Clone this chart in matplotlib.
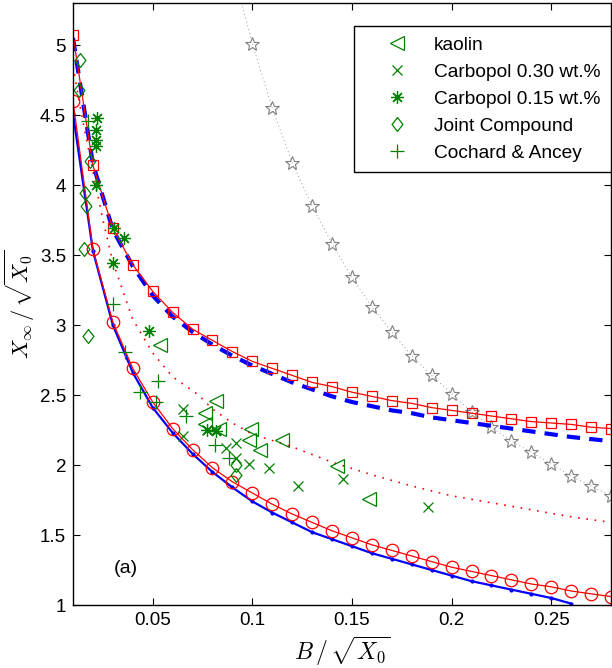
import numpy as np
import matplotlib
matplotlib.use('Agg')
import matplotlib.pyplot as plt

plt.rcParams['font.family'] = ['Liberation Sans', 'DejaVu Sans']
plt.rcParams['mathtext.fontset'] = 'cm'

# model curves
xs = [0.01, 0.02, 0.03, 0.04, 0.05, 0.06, 0.07, 0.08, 0.09, 0.10, 0.11, 0.12, 0.13, 0.14,
      0.15, 0.16, 0.17, 0.18, 0.19, 0.20, 0.21, 0.22, 0.23, 0.24, 0.25, 0.26, 0.27, 0.28]
sq_y = [5.07, 4.14, 3.69, 3.43, 3.24, 3.09, 2.97, 2.89, 2.81, 2.74, 2.69, 2.64, 2.59, 2.56,
        2.52, 2.49, 2.46, 2.44, 2.41, 2.39, 2.37, 2.35, 2.33, 2.31, 2.30, 2.29, 2.27, 2.26]
circ_y = [4.60, 3.54, 3.02, 2.69, 2.45, 2.26, 2.11, 1.98, 1.88, 1.80, 1.72, 1.65, 1.59, 1.53,
          1.48, 1.43, 1.39, 1.35, 1.31, 1.27, 1.24, 1.21, 1.18, 1.15, 1.13, 1.10, 1.08, 1.06]

blue_x = [0.01, 0.02, 0.03, 0.04, 0.05, 0.06, 0.07, 0.08, 0.09, 0.10, 0.11, 0.12, 0.13,
          0.14, 0.15, 0.16, 0.17, 0.18, 0.19, 0.20, 0.21, 0.22, 0.23, 0.24, 0.25, 0.26]
blue_y = [4.51, 3.53, 3.00, 2.66, 2.41, 2.23, 2.08, 1.95, 1.84, 1.74, 1.66, 1.59, 1.52,
          1.47, 1.42, 1.37, 1.33, 1.29, 1.25, 1.21, 1.17, 1.14, 1.11, 1.08, 1.05, 1.01]

dash_x = [0.01, 0.0135, 0.02, 0.03, 0.04, 0.05, 0.06, 0.07, 0.08, 0.09, 0.10, 0.11, 0.12,
          0.13, 0.14, 0.15, 0.16, 0.17, 0.18, 0.19, 0.20, 0.22, 0.24, 0.26, 0.28]
dash_y = [5.05, 4.73, 4.15, 3.68, 3.42, 3.21, 3.06, 2.95, 2.86, 2.78, 2.71, 2.65, 2.59,
          2.54, 2.49, 2.45, 2.42, 2.39, 2.37, 2.34, 2.32, 2.28, 2.24, 2.20, 2.17]

dot_x = [0.01, 0.015, 0.02, 0.025, 0.03, 0.04, 0.05, 0.06, 0.073, 0.08, 0.09, 0.10, 0.12,
         0.14, 0.16, 0.18, 0.20, 0.22, 0.24, 0.26, 0.28]
dot_y = [4.85, 4.45, 4.10, 3.75, 3.45, 3.04, 2.80, 2.63, 2.50, 2.40, 2.30, 2.22, 2.13,
         2.02, 1.93, 1.85, 1.78, 1.73, 1.68, 1.63, 1.59]

star_x = [0.09, 0.10, 0.11, 0.12, 0.13, 0.14, 0.15, 0.16, 0.17, 0.18, 0.19, 0.20, 0.21,
          0.22, 0.23, 0.24, 0.25, 0.26, 0.27, 0.28]
star_y = [5.55, 5.01, 4.55, 4.16, 3.85, 3.58, 3.34, 3.13, 2.95, 2.78, 2.64, 2.51, 2.38,
          2.27, 2.17, 2.09, 2.01, 1.92, 1.85, 1.78]

# experiments
kaolin_x = [0.0535, 0.082, 0.076, 0.076, 0.0835, 0.0993, 0.0985, 0.115, 0.104, 0.1427, 0.1585]
kaolin_y = [2.86, 2.46, 2.37, 2.29, 2.26, 2.26, 2.18, 2.18, 2.11, 1.99, 1.755]
carb30_x = [0.065, 0.065, 0.077, 0.082, 0.0868, 0.092, 0.092, 0.0985, 0.1085, 0.123, 0.1457, 0.188]
carb30_y = [2.40, 2.21, 2.25, 2.25, 2.12, 2.155, 2.05, 2.01, 1.98, 1.85, 1.90, 1.70]
carb15_x = [0.022, 0.0217, 0.0217, 0.0217, 0.0213, 0.0308, 0.0358, 0.0303, 0.0482, 0.077, 0.082]
carb15_y = [4.48, 4.39, 4.32, 4.28, 4.00, 3.69, 3.62, 3.44, 2.96, 2.25, 2.24]
joint_x = [0.0137, 0.013, 0.0183, 0.0158, 0.0163, 0.0153, 0.0175, 0.092, 0.092]
joint_y = [4.89, 4.68, 4.17, 3.94, 3.85, 3.54, 2.92, 2.00, 1.93]
coch_x = [0.0177, 0.0303, 0.036, 0.0527, 0.0435, 0.0518, 0.0665, 0.0815, 0.0885]
coch_y = [4.46, 3.15, 2.81, 2.60, 2.52, 2.45, 2.35, 2.14, 2.05]

green = '#008000'
diamond = [(0, 1), (0.78, 0), (0, -1), (-0.78, 0), (0, 1)]

fig = plt.figure(figsize=(6.12, 6.68), dpi=100)
ax = fig.add_axes([73/612, 63/668, 538/612, 602/668])

ax.plot(star_x, star_y, color='#999999', lw=0.7, ls=(0, (1, 3)), marker='*',
        ms=10, mfc='none', mec='#808080', mew=0.8)
ax.plot(dot_x, dot_y, color='red', lw=1.2, ls=(0, (1, 4)))
ax.plot(blue_x, blue_y, color='blue', lw=1.6, marker='.', ms=4)
ax.plot(xs, circ_y, color='red', lw=0.9, marker='o', ms=9, mfc='none', mew=0.9)
ax.plot(dash_x, dash_y, color='blue', lw=3, ls=(0, (3.2, 2.2)))
ax.plot(xs, sq_y, color='red', lw=0.9, marker='s', ms=7.5, mfc='none', mew=0.9)

ax.plot(kaolin_x, kaolin_y, ls='none', marker='<', ms=10, mfc='none', mec=green, mew=0.9, label='kaolin')
ax.plot(carb30_x, carb30_y, ls='none', marker='x', ms=7, mec=green, mew=0.9, label='Carbopol 0.30 wt.%')
ax.plot(carb15_x, carb15_y, ls='none', marker=(8, 2, 0), ms=9, mec=green, mew=0.9, label='Carbopol 0.15 wt.%')
ax.plot(joint_x, joint_y, ls='none', marker=diamond, ms=10, mfc='none', mec=green, mew=0.9, label='Joint Compound')
ax.plot(coch_x, coch_y, ls='none', marker='+', ms=10, mec=green, mew=0.9, label='Cochard & Ancey')

ax.set_xlim(0.01, 0.28)
ax.set_ylim(1, 5.3)
ax.set_xticks([0.05, 0.1, 0.15, 0.2, 0.25])
ax.set_xticklabels(['0.05', '0.1', '0.15', '0.2', '0.25'])
ax.set_yticks([1, 1.5, 2, 2.5, 3, 3.5, 4, 4.5, 5])
ax.set_yticklabels(['1', '1.5', '2', '2.5', '3', '3.5', '4', '4.5', '5'])
ax.tick_params(direction='in', top=True, right=True, length=5, width=0.8, labelsize=13.5, pad=5)
for s in ax.spines.values():
    s.set_linewidth(1.0)

ax.set_xlabel(r'$B\,/\,\sqrt{X_0}$', fontsize=17, labelpad=4)
ax.set_ylabel(r'$X_\infty\,/\,\sqrt{X_0}$', fontsize=16, labelpad=2)
ax.text(0.0365, 1.26, '(a)', fontsize=14, ha='center', va='center')

leg = ax.legend(loc='upper right', bbox_to_anchor=(1.0, 0.962), fontsize=13.8, frameon=True,
                fancybox=False, edgecolor='black', framealpha=1, borderpad=0.55,
                labelspacing=0.5, handlelength=3.3, handletextpad=0.3, borderaxespad=0)
leg.get_frame().set_linewidth(1.0)

fig.savefig('out.png', dpi=100)
